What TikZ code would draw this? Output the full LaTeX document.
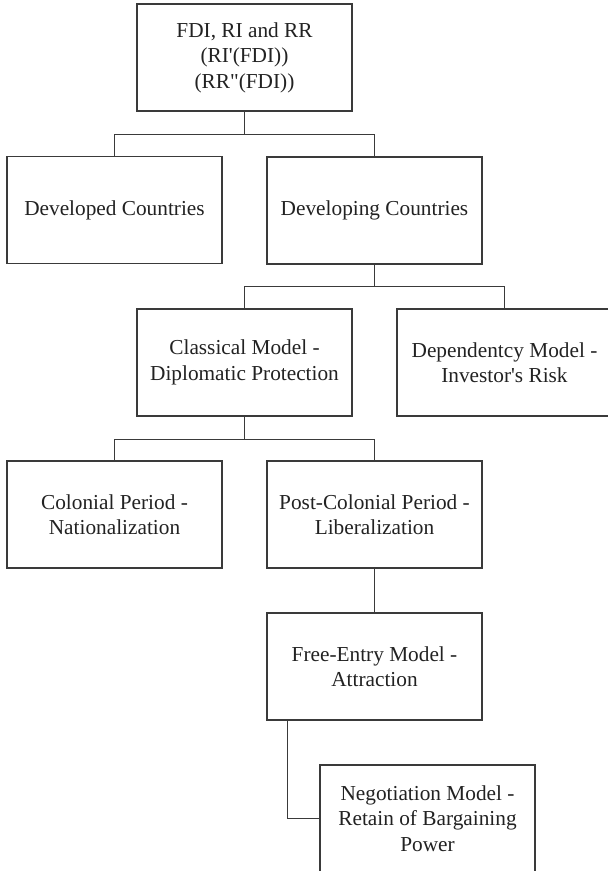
\documentclass[tikz,border=0pt]{standalone}
\usepackage{fontspec}
\newfontfamily\boxfont{Liberation Serif}
\definecolor{linegray}{HTML}{3A3A3A}
\definecolor{textgray}{HTML}{222222}
\begin{document}
\begin{tikzpicture}[x=1pt,y=-1pt,
  box/.style={draw=linegray, line width=1.2pt, minimum width=215pt, minimum height=107pt,
    inner sep=0pt, align=center, text=textgray,
    font=\boxfont\fontsize{21.3}{25.5}\selectfont},
  conn/.style={draw=linegray, line width=1.2pt}]
\useasboundingbox (0,0) rectangle (608,871);
\clip (0,0) rectangle (608,871);
\fill[white] (0,0) rectangle (608,871);
\node[box] (top) at (244.5,57.5) {FDI, RI and RR\\(RI'(FDI))\\(RR"(FDI))};
\node[box] (dev) at (114.5,210) {Developed Countries};
\node[box] (deving) at (374.5,210.5) {Developing Countries};
\node[box] (classical) at (244.5,362.5) {Classical Model -\\Diplomatic Protection};
\node[box] (depend) at (504.5,362.5) {Dependentcy Model -\\Investor's Risk};
\node[box] (colonial) at (114.5,514.5) {Colonial Period -\\Nationalization};
\node[box] (postcol) at (374.5,514.5) {Post-Colonial Period -\\Liberalization};
\node[box] (free) at (374.5,666.5) {Free-Entry Model -\\Attraction};
\node[box] (nego) at (427.5,818.5) {Negotiation Model -\\Retain of Bargaining\\Power};
\draw[conn] (top.south) -- ++(0,23) -| (dev.north);
\draw[conn] (top.south) -- ++(0,23) -| (deving.north);
\draw[conn] (deving.south) -- ++(0,22) -| (classical.north);
\draw[conn] (deving.south) -- ++(0,22) -| (depend.north);
\draw[conn] (classical.south) -- ++(0,22.5) -| (colonial.north);
\draw[conn] (classical.south) -- ++(0,22.5) -| (postcol.north);
\draw[conn] (postcol.south) -- (free.north);
\draw[conn] ([xshift=21pt]free.south west) |- (nego.west);
\end{tikzpicture}
\end{document}
